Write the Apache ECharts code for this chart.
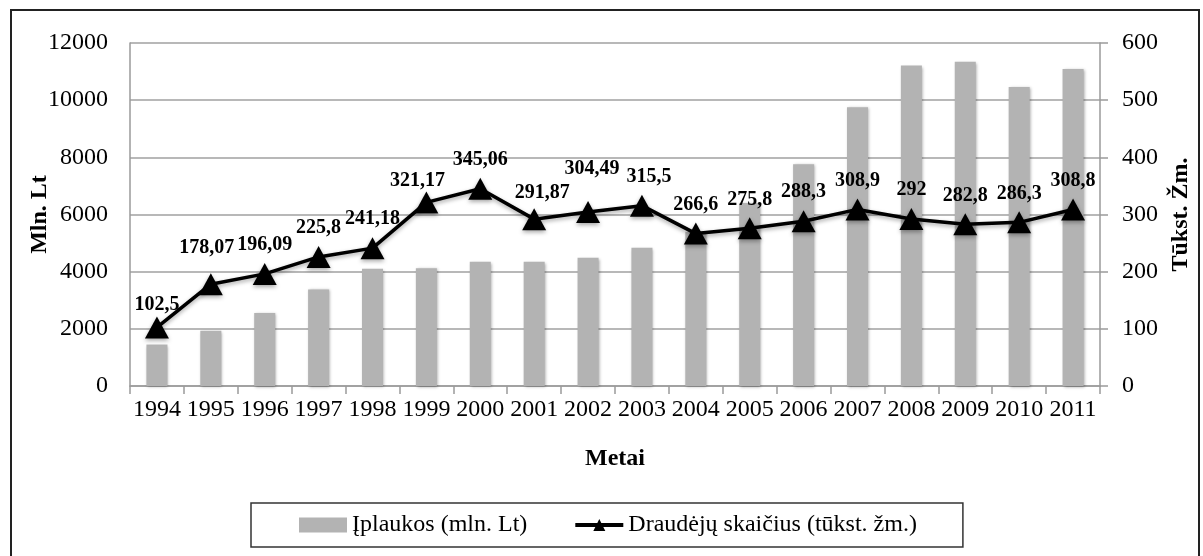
<!DOCTYPE html>
<html>
<head>
<meta charset="utf-8">
<script src="https://cdn.jsdelivr.net/npm/echarts@6/dist/echarts.min.js"></script>
<style>
html,body{margin:0;padding:0;background:#fff;}
#chart{width:1203px;height:556px;}
</style>
</head>
<body>
<div id="chart"></div>
<script>
// ---- data ----
const years = ['1994','1995','1996','1997','1998','1999','2000','2001','2002','2003','2004','2005','2006','2007','2008','2009','2010','2011'];
const iplaukos = [1450, 1930, 2550, 3380, 4100, 4120, 4350, 4350, 4490, 4840, 5400, 6400, 7760, 9750, 11210, 11340, 10460, 11090];
const draudejai = [102.5, 178.07, 196.09, 225.8, 241.18, 321.17, 345.06, 291.87, 304.49, 315.5, 266.6, 275.8, 288.3, 308.9, 292, 282.8, 286.3, 308.8];
const leftTicks = [0, 12000, 2000];   // min, max, interval
const rightTicks = [0, 600, 100];
const seriesNames = ['Įplaukos (mln. Lt)', 'Draudėjų skaičius (tūkst. žm.)'];

// label nudges (style only): [dx, dy] per point
const labelNudge = {0:[0,6], 1:[-4,-7], 5:[-9,7], 7:[8,3], 8:[4,-14], 9:[7,0]};

const FONT = '"Liberation Serif", "Times New Roman", serif';
const chart = echarts.init(document.getElementById('chart'));

const lineData = draudejai.map((v, i) => {
  const n = labelNudge[i];
  const d = { value: v };
  if (n) d.label = { offset: n };
  return d;
});

chart.setOption({
  animation: false,
  backgroundColor: '#fff',
  textStyle: { fontFamily: FONT, color: '#000' },
  graphic: [{
    type: 'rect',
    shape: { x: 11, y: 10, width: 1188, height: 560 },
    style: { fill: 'none', stroke: '#222', lineWidth: 2 },
    silent: true, z: 0
  }],
  grid: { left: 130, right: 103, top: 43, bottom: 170 },
  legend: {
    left: 251, top: 503,
    padding: [10, 46, 10, 48],
    borderColor: '#333', borderWidth: 1.5,
    itemGap: 46, itemWidth: 48, itemHeight: 15,
    textStyle: { fontFamily: FONT, fontSize: 24, color: '#000' },
    data: [
      { name: seriesNames[0], icon: 'rect', itemStyle: { color: '#b3b3b3' } },
      { name: seriesNames[1], lineStyle: { width: 4, color: '#000' } }
    ]
  },
  xAxis: {
    type: 'category',
    data: years,
    name: 'Metai',
    nameLocation: 'middle',
    nameGap: 61,
    nameTextStyle: { fontFamily: FONT, fontSize: 24, fontWeight: 'bold', color: '#000' },
    axisLine: { lineStyle: { color: '#9a9a9a', width: 1.5 } },
    axisTick: { show: true, length: 8, lineStyle: { color: '#9a9a9a', width: 1.5 } },
    axisLabel: { fontFamily: FONT, fontSize: 24, color: '#000', margin: 12, interval: 0 }
  },
  yAxis: [{
    type: 'value',
    min: leftTicks[0], max: leftTicks[1], interval: leftTicks[2],
    name: 'Mln. Lt',
    nameLocation: 'middle',
    nameRotate: 90,
    nameGap: 78,
    nameMoveOverlap: false,
    nameTextStyle: { fontFamily: FONT, fontSize: 24, fontWeight: 'bold', color: '#000' },
    axisLine: { show: true, lineStyle: { color: '#9a9a9a', width: 1.5 } },
    axisTick: { show: false },
    axisLabel: { fontFamily: FONT, fontSize: 24, color: '#000', margin: 22, formatter: v => String(v) },
    splitLine: { lineStyle: { color: '#a0a0a0', width: 1.5 } }
  }, {
    type: 'value',
    position: 'right',
    min: rightTicks[0], max: rightTicks[1], interval: rightTicks[2],
    name: 'Tūkst. Žm.',
    nameLocation: 'middle',
    nameRotate: 90,
    nameGap: 66,
    nameTextStyle: { fontFamily: FONT, fontSize: 24, fontWeight: 'bold', color: '#000' },
    axisLine: { show: true, lineStyle: { color: '#9a9a9a', width: 1.5 } },
    axisTick: { show: true, length: 8, lineStyle: { color: '#9a9a9a', width: 1.5 } },
    axisLabel: { fontFamily: FONT, fontSize: 24, color: '#000', margin: 22, formatter: v => String(v) },
    splitLine: { show: false }
  }],
  series: [{
    name: seriesNames[0],
    type: 'bar',
    data: iplaukos,
    yAxisIndex: 0,
    barWidth: '39%',
    itemStyle: { color: '#b3b3b3', shadowBlur: 3, shadowColor: 'rgba(0,0,0,0.35)', shadowOffsetX: 1, shadowOffsetY: 1 },
    z: 2
  }, {
    name: seriesNames[1],
    type: 'line',
    data: lineData,
    yAxisIndex: 1,
    symbol: 'triangle',
    symbolSize: [24, 22],
    lineStyle: { color: '#000', width: 3.5, shadowBlur: 4, shadowColor: 'rgba(0,0,0,0.35)', shadowOffsetY: 2 },
    itemStyle: { color: '#000', shadowBlur: 4, shadowColor: 'rgba(0,0,0,0.35)', shadowOffsetY: 2 },
    label: {
      show: true, position: 'top', distance: 8,
      fontFamily: FONT, fontSize: 20, fontWeight: 'bold', color: '#000',
      formatter: p => String(p.value).replace('.', ',')
    },
    z: 5
  }]
});
</script>
</body>
</html>
